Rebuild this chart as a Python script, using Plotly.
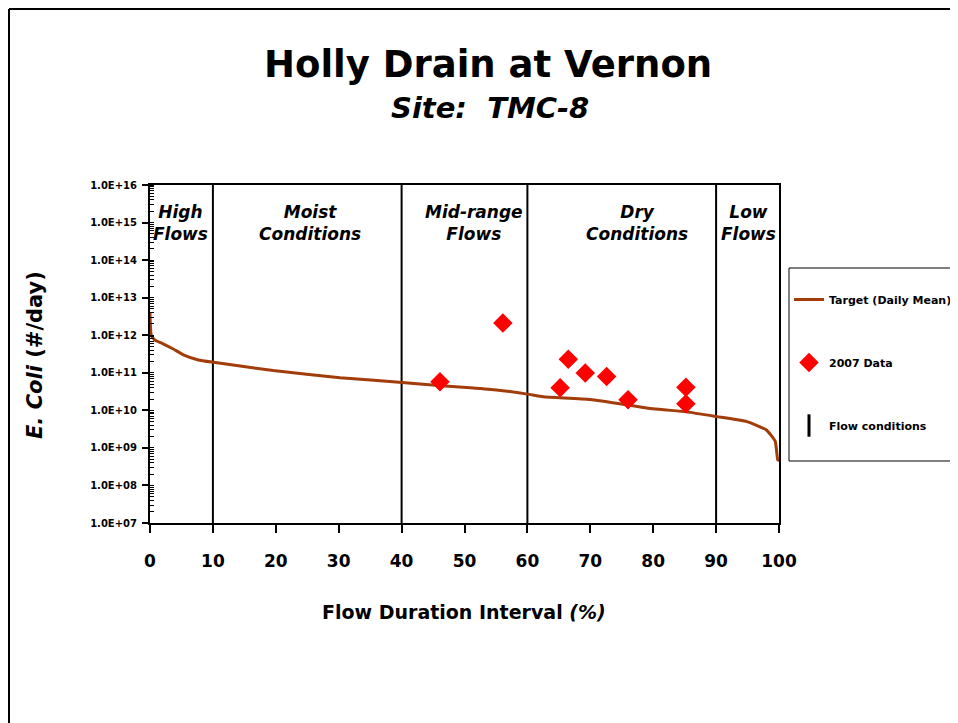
import plotly.graph_objects as go

### Data ---------------------------------------------------------

# load duration curve (target, daily mean)
curve_x = [0, 0.2, 0.8, 2.0, 3.7, 5.3, 7.7, 10.1, 19.6, 30.2, 40.1, 42.9, 50.9, 55.1,
           60.0, 62.5, 70.0, 80.0, 85.3, 90.1, 94.9, 98.0, 99.4, 99.8, 100]
curve_y = [3.9e12, 1.0e12, 7.4e11, 6.0e11, 4.3e11, 3.0e11, 2.2e11, 1.9e11, 1.15e11,
           7.4e10, 5.5e10, 5.0e10, 4.0e10, 3.5e10, 2.7e10, 2.3e10, 1.95e10,
           1.1e10, 9.1e9, 6.8e9, 5.0e9, 3.0e9, 1.5e9, 4.8e8, 4.6e8]

# 2007 samples
data_x = [46.1, 56.1, 66.5, 65.2, 69.2, 72.6, 76.0, 85.2, 85.2]
data_y = [5.8e10, 2.1e12, 2.3e11, 4.0e10, 9.8e10, 8.0e10, 1.9e10, 4.1e10, 1.5e10]

# flow condition boundaries and labels
bounds = [10, 40, 60, 90]
zone_labels = ["High<br>Flows", "Moist<br>Conditions", "Mid-range<br>Flows",
               "Dry<br>Conditions", "Low<br>Flows"]
zone_x = [4.8, 25.5, 51.5, 77.5, 95.2]

xticks = [0, 10, 20, 30, 40, 50, 60, 70, 80, 90, 100]
yticks = [1e7, 1e8, 1e9, 1e10, 1e11, 1e12, 1e13, 1e14, 1e15, 1e16]
ytick_text = ["1.0E+07", "1.0E+08", "1.0E+09", "1.0E+10", "1.0E+11",
              "1.0E+12", "1.0E+13", "1.0E+14", "1.0E+15", "1.0E+16"]

### Layout helpers -------------------------------------------------
# page pixels as seen in the screenshot; browser body adds an 8px margin
OFF = 8
W, H = 958 - OFF, 723 - OFF
L, R, T, B = 150, 779, 185, 523   # plot area in page pixels

def px_x(p):
    return (p - L) / (R - L)

def px_y(p):
    return (B - p) / (B - T)

FONT = "DejaVu Sans"

def page_text(x, y, text, size, angle=0):
    fig.add_annotation(x=px_x(x), y=px_y(y), xref="paper", yref="paper",
                       xanchor="center", yanchor="middle", textangle=angle,
                       text=text, showarrow=False,
                       font=dict(family=FONT, size=size, color="black"))

### Figure -----------------------------------------------------------
fig = go.Figure()

# flow condition lines (drawn as one trace, legend entry handled separately)
vx, vy = [], []
for b in bounds:
    vx += [b, b, None]
    vy += [1e7, 1e16, None]
fig.add_trace(go.Scatter(x=vx, y=vy, mode="lines", line=dict(color="black", width=2),
                         showlegend=False, hoverinfo="skip"))

fig.add_trace(go.Scatter(x=curve_x, y=curve_y, mode="lines", name="Target (Daily Mean)",
                         legendgroup="a", line=dict(color="#A23C08", width=3, shape="spline",
                                                    smoothing=0.4)))

fig.add_trace(go.Scatter(x=data_x, y=data_y, mode="markers", name="2007 Data",
                         legendgroup="b",
                         marker=dict(symbol="diamond", size=15, color="#FF0000")))

fig.add_trace(go.Scatter(x=[None], y=[None], mode="markers", name="Flow conditions",
                         legendgroup="c",
                         marker=dict(symbol="line-ns", size=26,
                                     line=dict(color="black", width=3))))

for zx, zl in zip(zone_x, zone_labels):
    fig.add_annotation(x=zx, y=15, xref="x", yref="y", xanchor="center", yanchor="middle",
                       text="<b><i>" + zl + "</i></b>", showarrow=False,
                       font=dict(family=FONT, size=17, color="black"))

# titles
page_text(488, 65, "<b>Holly Drain at Vernon</b>", 37)
page_text(490, 108, "<b><i>Site:  TMC-8</i></b>", 29)
page_text(464, 612, "<b>Flow Duration Interval <i>(%)</i></b>", 19)
page_text(35, 355, "<b><i>E. Coli</i> (#/day)</b>", 21, angle=-90)

# page border (left and top)
fig.add_shape(type="line", xref="paper", yref="paper", x0=px_x(9), x1=px_x(9),
              y0=px_y(9), y1=px_y(H + 20), line=dict(color="black", width=2))
fig.add_shape(type="line", xref="paper", yref="paper", x0=px_x(9), x1=px_x(W + 20),
              y0=px_y(9), y1=px_y(9), line=dict(color="black", width=2))

# legend frame
fig.add_shape(type="rect", xref="paper", yref="paper", x0=px_x(789), x1=px_x(W + 30),
              y0=px_y(268), y1=px_y(461), line=dict(color="black", width=1),
              fillcolor="white", layer="below")

fig.update_xaxes(range=[0, 100], tickvals=xticks, ticks="outside", ticklen=8,
                 tickwidth=2, tickcolor="black", showline=True, linewidth=2,
                 linecolor="black", mirror=True, showgrid=False, zeroline=False,
                 ticklabelstandoff=14,
                 tickfont=dict(family=FONT, size=17, color="black", weight="bold"))
fig.update_yaxes(type="log", range=[7, 16], tickvals=yticks, ticktext=ytick_text,
                 ticks="outside", ticklen=6, tickwidth=2, tickcolor="black",
                 showline=True, linewidth=2, linecolor="black", mirror=True,
                 showgrid=False, zeroline=False, ticklabelstandoff=3,
                 minor=dict(ticks="inside", ticklen=4, tickwidth=1, tickcolor="black",
                            dtick="D1", showgrid=False),
                 tickfont=dict(family=FONT, size=10, color="black", weight="bold"))

fig.update_layout(
    width=W, height=H,
    margin=dict(l=L - OFF, r=W - (R - OFF), t=T - OFF, b=H - (B - OFF), autoexpand=False),
    plot_bgcolor="white", paper_bgcolor="white",
    showlegend=True,
    legend=dict(x=px_x(789), y=px_y(285), xanchor="left", yanchor="top",
                bgcolor="rgba(0,0,0,0)", borderwidth=0,
                tracegroupgap=44, itemwidth=30,
                font=dict(family=FONT, size=11, color="black", weight="bold")),
)

fig.write_html("out.html")
